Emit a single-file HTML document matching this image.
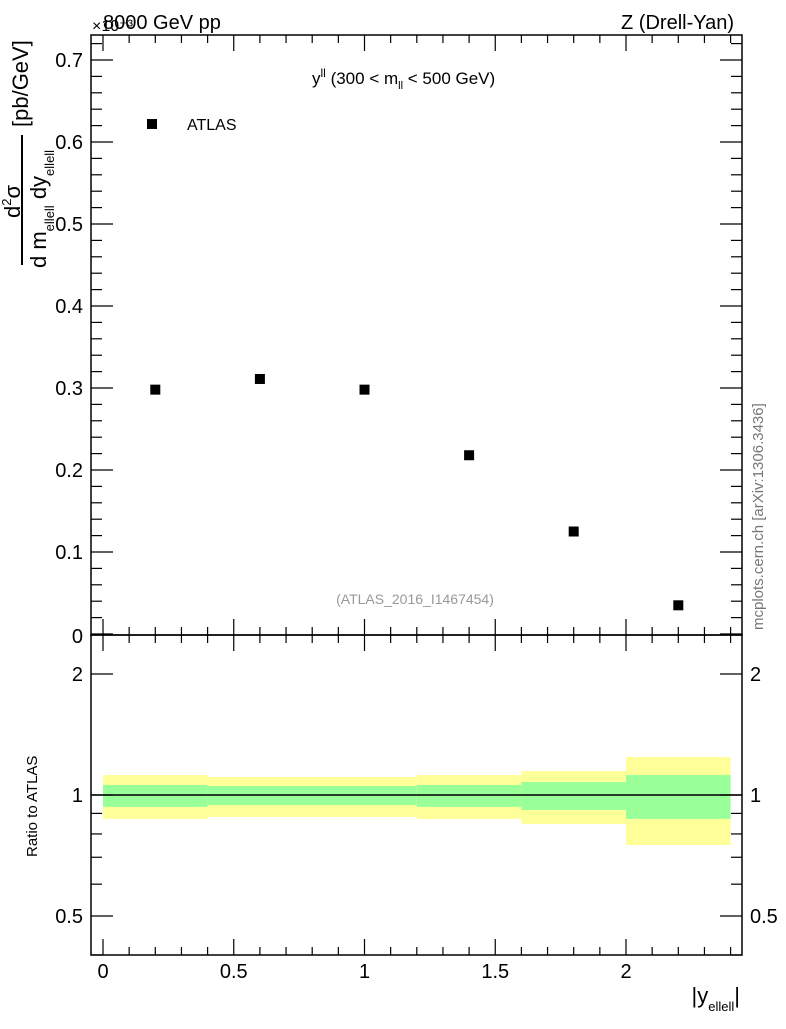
<!DOCTYPE html>
<html><head><meta charset="utf-8"><style>
body{margin:0;background:#fff;}
svg{font-family:"Liberation Sans",sans-serif;}
</style></head><body>
<svg id="chart" width="786" height="1024" xmlns="http://www.w3.org/2000/svg">
<g id="bands"></g>
<g id="marks"></g>
<g id="axes"></g>
<text x="103" y="29" font-size="20">8000 GeV pp</text>
<text x="92" y="31" font-size="16">×10⁻³</text>
<text x="734" y="29" font-size="20" text-anchor="end">Z (Drell-Yan)</text>
<text x="312" y="84" font-size="17">y<tspan font-size="12" dy="-7">ll</tspan><tspan dy="7"> (300 &lt; m</tspan><tspan font-size="11" dy="5">ll</tspan><tspan dy="-5"> &lt; 500 GeV)</tspan></text>
<rect x="147" y="119" width="10" height="10" fill="#000"/>
<text x="187" y="130" font-size="16">ATLAS</text>
<text x="415" y="604" font-size="14" fill="#999" text-anchor="middle">(ATLAS_2016_I1467454)</text>
<text transform="translate(763,630) rotate(-90)" font-size="15" fill="#777">mcplots.cern.ch [arXiv:1306.3436]</text>
<g font-size="22">
<text transform="translate(20,218) rotate(-90)">d<tspan font-size="13" dy="-9">2</tspan><tspan dy="9">σ</tspan></text>
<line x1="22" y1="265" x2="22" y2="135" stroke="#000" stroke-width="2"/>
<text transform="translate(46,268) rotate(-90)">d m<tspan font-size="13" dy="8">ellell</tspan><tspan dy="-8"> dy</tspan><tspan font-size="13" dy="8">ellell</tspan></text>
<text transform="translate(28,127) rotate(-90)">[pb/GeV]</text>
</g>
<text transform="translate(37,857) rotate(-90)" font-size="15">Ratio to ATLAS</text>
<text x="740" y="1003" font-size="22" text-anchor="end">|y<tspan font-size="13" dy="8">ellell</tspan><tspan dy="-8">|</tspan></text>
</svg>
<script>
const xCats=[0.2,0.6,1.0,1.4,1.8,2.2];
const yVals=[0.298,0.311,0.298,0.218,0.125,0.035];
const binLo=[0.0,0.4,1.2,1.6,2.0];
const binHi=[0.4,1.2,1.6,2.0,2.4];
const yelUp=[1.121,1.109,1.121,1.147,1.243];
const yelDn=[0.872,0.882,0.872,0.847,0.751];
const grnUp=[1.059,1.053,1.059,1.077,1.121];
const grnDn=[0.934,0.944,0.934,0.918,0.872];
const xTicks=[0,0.5,1,1.5,2];
const yTicks=[0.1,0.2,0.3,0.4,0.5,0.6,0.7];
const rTicks=[0.5,1,2];
const L=91,R=742,T=35,M=635,B=955;
const X=v=>103+v*261.5;
const Y=v=>634-v*820;
const RY=v=>795-Math.log2(v)*121;
const NS="http://www.w3.org/2000/svg";
function mk(p,tag,a){const e=document.createElementNS(NS,tag);for(const k in a)e.setAttribute(k,a[k]);p.appendChild(e);return e;}
const bands=document.getElementById('bands'),marks=document.getElementById('marks'),axes=document.getElementById('axes');
for(let i=0;i<binLo.length;i++){
 const yb=mk(bands,'rect',{x:X(binLo[i]),y:RY(yelUp[i]),width:X(binHi[i])-X(binLo[i]),height:RY(yelDn[i])-RY(yelUp[i]),fill:'#ffff99'});
 
 
 const gb=mk(bands,'rect',{x:X(binLo[i]),y:RY(grnUp[i]),width:X(binHi[i])-X(binLo[i]),height:RY(grnDn[i])-RY(grnUp[i]),fill:'#99ff99'});
 
 
}
const ref=mk(bands,'line',{x1:L,x2:R,y1:RY(1),y2:RY(1),stroke:'#000','stroke-width':1.5});


for(let i=0;i<xCats.length;i++){
 const r=mk(marks,'rect',{x:X(xCats[i])-5,y:Y(yVals[i])-5,width:10,height:10,fill:'#000'});
 
 
}
const st={stroke:'#000','stroke-width':1.5,fill:'none'};
mk(axes,'rect',Object.assign({x:L,y:T,width:R-L,height:M-T},st));
mk(axes,'rect',Object.assign({x:L,y:M,width:R-L,height:B-M},st));
for(let k=0;k<=24;k++){
 const v=k/10;const major=(k%5===0);const len=major?16:8;
 [T,M].forEach(t=>mk(axes,'line',{x1:X(v),x2:X(v),y1:t,y2:t+len,stroke:'#000','stroke-width':1.2}));
 [M,B].forEach(b=>mk(axes,'line',{x1:X(v),x2:X(v),y1:b,y2:b-len,stroke:'#000','stroke-width':1.2}));
}
xTicks.forEach(v=>{const t=mk(axes,'text',{x:X(v),y:978,'font-size':20,'text-anchor':'middle'});t.textContent=String(v);
 
 });
for(let k=0;k<=36;k++){
 const v=k*0.02;const major=(k%5===0);const len=major?22:11;
 mk(axes,'line',{x1:L,x2:L+len,y1:Y(v),y2:Y(v),stroke:'#000','stroke-width':1.2});
 mk(axes,'line',{x1:R,x2:R-len,y1:Y(v),y2:Y(v),stroke:'#000','stroke-width':1.2});
}
yTicks.forEach(v=>{const t=mk(axes,'text',{x:83,y:Y(v)+7,'font-size':20,'text-anchor':'end'});t.textContent=String(v);
 
 });
const z=mk(axes,'text',{x:83,y:643,'font-size':20,'text-anchor':'end'});z.textContent='0';
[0.4,0.5,0.6,0.7,0.8,0.9,1,2].forEach(v=>{
 const major=rTicks.includes(v);const len=major?22:11;
 mk(axes,'line',{x1:L,x2:L+len,y1:RY(v),y2:RY(v),stroke:'#000','stroke-width':1.2});
 mk(axes,'line',{x1:R,x2:R-len,y1:RY(v),y2:RY(v),stroke:'#000','stroke-width':1.2});
});
rTicks.forEach(v=>{
 const t=mk(axes,'text',{x:83,y:RY(v)+7,'font-size':20,'text-anchor':'end'});t.textContent=String(v);
 
 
 const t2=mk(axes,'text',{x:750,y:RY(v)+7,'font-size':20});t2.textContent=String(v);
 
 
});
</script>
</body></html>
